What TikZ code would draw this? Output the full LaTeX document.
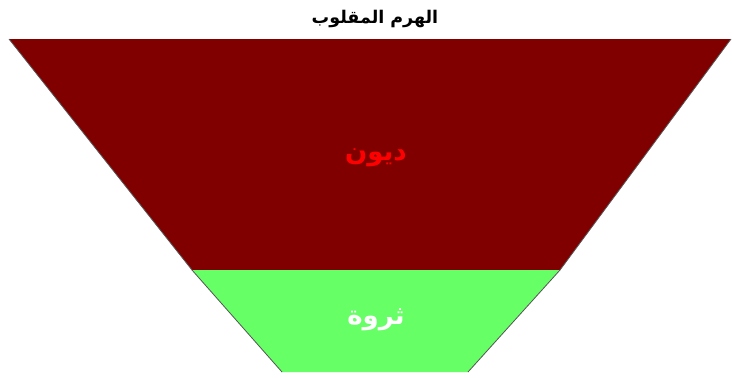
\documentclass[tikz,border=0pt]{standalone}
\usepackage{fontspec}
\TeXXeTstate=1
\newfontfamily\arabicfont[Script=Arabic]{DejaVu Sans}
\definecolor{debtred}{HTML}{800000}
\definecolor{wealthgreen}{HTML}{66FF66}
\definecolor{edgegray}{HTML}{555555}
\tikzset{
  lbl/.style={font=\arabicfont\bfseries\fontsize{26}{29}\selectfont, inner sep=0pt},
  slant/.style={draw=edgegray, line width=0.8pt},
}
\begin{document}
\begin{tikzpicture}[x=1pt,y=-1pt]
\useasboundingbox (0,0) rectangle (732,378);
\fill[white] (0,0) rectangle (732,378);
% red band
\fill[debtred] (9,39) -- (731,39) -- (560,270) -- (192,270) -- cycle;
% green band
\fill[wealthgreen] (192,270) -- (560,270) -- (468,372) -- (282,372) -- cycle;
\draw[slant] (9,39) -- (192,270) -- (282,372);
\draw[slant] (731,39) -- (560,270) -- (468,372);
\node[lbl, text=black, font=\arabicfont\bfseries\fontsize{17.5}{20}\selectfont] (title) at (375,19) {\beginR الهرم المقلوب\endR};
\node[lbl, text=red] (debt) at (376,158) {\beginR ديون\endR};
\node[lbl, text=white] (wealth) at (376,320) {\beginR ثروة\endR};
\end{tikzpicture}
\end{document}
